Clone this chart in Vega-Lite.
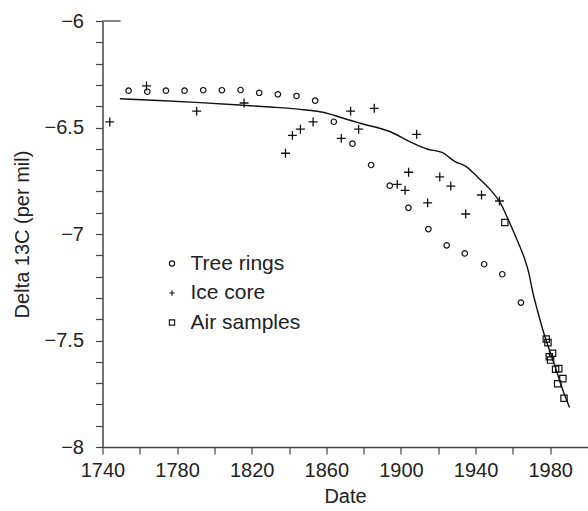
{
  "$schema": "https://vega.github.io/schema/vega-lite/v6.json",
  "width": 485,
  "height": 426,
  "autosize": "none",
  "padding": {"left": 102.5, "top": 21, "right": 0.5, "bottom": 64},
  "background": "white",
  "config": {
    "view": {"stroke": null},
    "font": "Liberation Sans",
    "axis": {
      "grid": false,
      "domainColor": "#444",
      "domainWidth": 1.5,
      "tickColor": "#444",
      "tickWidth": 1.2,
      "tickSize": 7,
      "labelFontSize": 20,
      "labelColor": "#222",
      "titleFontSize": 20,
      "titleFontWeight": "normal",
      "titleColor": "#222"
    }
  },
  "datasets": {
    "points": [
      {"date": 1754, "d13c": -6.327, "series": "Tree rings"},
      {"date": 1764, "d13c": -6.332, "series": "Tree rings"},
      {"date": 1774, "d13c": -6.327, "series": "Tree rings"},
      {"date": 1784, "d13c": -6.327, "series": "Tree rings"},
      {"date": 1794, "d13c": -6.325, "series": "Tree rings"},
      {"date": 1804, "d13c": -6.325, "series": "Tree rings"},
      {"date": 1814, "d13c": -6.324, "series": "Tree rings"},
      {"date": 1824, "d13c": -6.337, "series": "Tree rings"},
      {"date": 1834, "d13c": -6.344, "series": "Tree rings"},
      {"date": 1844, "d13c": -6.352, "series": "Tree rings"},
      {"date": 1854, "d13c": -6.374, "series": "Tree rings"},
      {"date": 1864, "d13c": -6.473, "series": "Tree rings"},
      {"date": 1874, "d13c": -6.576, "series": "Tree rings"},
      {"date": 1884, "d13c": -6.676, "series": "Tree rings"},
      {"date": 1894, "d13c": -6.773, "series": "Tree rings"},
      {"date": 1904, "d13c": -6.877, "series": "Tree rings"},
      {"date": 1914.7, "d13c": -6.977, "series": "Tree rings"},
      {"date": 1924.5, "d13c": -7.053, "series": "Tree rings"},
      {"date": 1934.2, "d13c": -7.091, "series": "Tree rings"},
      {"date": 1944.6, "d13c": -7.142, "series": "Tree rings"},
      {"date": 1954.3, "d13c": -7.189, "series": "Tree rings"},
      {"date": 1964.3, "d13c": -7.322, "series": "Tree rings"},
      {"date": 1743.9, "d13c": -6.474, "series": "Ice core"},
      {"date": 1763.6, "d13c": -6.305, "series": "Ice core"},
      {"date": 1790.5, "d13c": -6.423, "series": "Ice core"},
      {"date": 1815.9, "d13c": -6.385, "series": "Ice core"},
      {"date": 1838.1, "d13c": -6.621, "series": "Ice core"},
      {"date": 1841.8, "d13c": -6.537, "series": "Ice core"},
      {"date": 1846.1, "d13c": -6.508, "series": "Ice core"},
      {"date": 1852.9, "d13c": -6.474, "series": "Ice core"},
      {"date": 1868, "d13c": -6.551, "series": "Ice core"},
      {"date": 1873, "d13c": -6.423, "series": "Ice core"},
      {"date": 1877.3, "d13c": -6.508, "series": "Ice core"},
      {"date": 1885.7, "d13c": -6.41, "series": "Ice core"},
      {"date": 1898, "d13c": -6.767, "series": "Ice core"},
      {"date": 1902.2, "d13c": -6.795, "series": "Ice core"},
      {"date": 1904.1, "d13c": -6.71, "series": "Ice core"},
      {"date": 1908.4, "d13c": -6.532, "series": "Ice core"},
      {"date": 1914.3, "d13c": -6.854, "series": "Ice core"},
      {"date": 1920.8, "d13c": -6.732, "series": "Ice core"},
      {"date": 1926.7, "d13c": -6.775, "series": "Ice core"},
      {"date": 1934.7, "d13c": -6.906, "series": "Ice core"},
      {"date": 1943.2, "d13c": -6.817, "series": "Ice core"},
      {"date": 1952.8, "d13c": -6.845, "series": "Ice core"},
      {"date": 1955.7, "d13c": -6.946, "series": "Air samples"},
      {"date": 1977.9, "d13c": -7.493, "series": "Air samples"},
      {"date": 1978.8, "d13c": -7.51, "series": "Air samples"},
      {"date": 1981.3, "d13c": -7.56, "series": "Air samples"},
      {"date": 1979.5, "d13c": -7.576, "series": "Air samples"},
      {"date": 1980.2, "d13c": -7.592, "series": "Air samples"},
      {"date": 1982.9, "d13c": -7.635, "series": "Air samples"},
      {"date": 1984.6, "d13c": -7.632, "series": "Air samples"},
      {"date": 1984, "d13c": -7.703, "series": "Air samples"},
      {"date": 1986.8, "d13c": -7.679, "series": "Air samples"},
      {"date": 1987.4, "d13c": -7.771, "series": "Air samples"}
    ],
    "curve": [
      {"date": 1749.3, "d13c": -6.365},
      {"date": 1770, "d13c": -6.373},
      {"date": 1790, "d13c": -6.382},
      {"date": 1815.9, "d13c": -6.396},
      {"date": 1830, "d13c": -6.404},
      {"date": 1846, "d13c": -6.415},
      {"date": 1855, "d13c": -6.424},
      {"date": 1862, "d13c": -6.437},
      {"date": 1867.4, "d13c": -6.452},
      {"date": 1878.2, "d13c": -6.48},
      {"date": 1894.3, "d13c": -6.52},
      {"date": 1905, "d13c": -6.567},
      {"date": 1914, "d13c": -6.601},
      {"date": 1922, "d13c": -6.617},
      {"date": 1929.2, "d13c": -6.661},
      {"date": 1934.6, "d13c": -6.681},
      {"date": 1940.9, "d13c": -6.731},
      {"date": 1948, "d13c": -6.793},
      {"date": 1953.4, "d13c": -6.856},
      {"date": 1957.8, "d13c": -6.938},
      {"date": 1962.2, "d13c": -7.027},
      {"date": 1965.9, "d13c": -7.107},
      {"date": 1968.6, "d13c": -7.185},
      {"date": 1970.4, "d13c": -7.263},
      {"date": 1973.1, "d13c": -7.357},
      {"date": 1976.6, "d13c": -7.466},
      {"date": 1980.2, "d13c": -7.56},
      {"date": 1983.8, "d13c": -7.654},
      {"date": 1987.4, "d13c": -7.748},
      {"date": 1990.4, "d13c": -7.815}
    ],
    "topstub": [
      {"date": 1740, "date2": 1749.7, "d13c": -6}
    ]
  },
  "encoding": {
    "x": {
      "field": "date",
      "type": "quantitative",
      "scale": {"domain": [1740, 2000], "nice": false, "zero": false},
      "axis": {
        "title": "Date",
        "values": [1740, 1760, 1780, 1800, 1820, 1840, 1860, 1880, 1900, 1920, 1940, 1960, 1980],
        "format": "d",
        "labelExpr": "datum.value % 40 == 0 ? '' : datum.label",
        "labelPadding": 6,
        "titlePadding": 6,
        "labelFlush": false,
        "labelOverlap": false
      }
    },
    "y": {
      "field": "d13c",
      "type": "quantitative",
      "scale": {"domain": [-8, -6], "nice": false, "zero": false},
      "axis": {
        "title": "Delta 13C (per mil)",
        "values": [-8, -7.9, -7.8, -7.7, -7.6, -7.5, -7.4, -7.3, -7.2, -7.1, -7, -6.9, -6.8, -6.7, -6.6, -6.5, -6.4, -6.3, -6.2, -6.1, -6],
        "labelExpr": "abs(datum.value * 2 - round(datum.value * 2)) < 0.001 ? format(datum.value, '~g') : ''",
        "labelPadding": 12,
        "titlePadding": 12,
        "labelFlush": false,
        "labelOverlap": false
      }
    }
  },
  "layer": [
    {
      "data": {"name": "topstub"},
      "mark": {"type": "rule", "color": "#444", "strokeWidth": 1.3},
      "encoding": {
        "x2": {"field": "date2"}
      }
    },
    {
      "data": {"name": "curve"},
      "mark": {"type": "line", "color": "#111", "strokeWidth": 1.4, "interpolate": "monotone"}
    },
    {
      "data": {"name": "points"},
      "transform": [{"filter": "datum.series === 'Tree rings'"}],
      "mark": {"type": "point", "size": 30, "strokeWidth": 1.2, "color": "#111", "filled": false, "opacity": 1},
      "encoding": {
        "shape": {
          "field": "series",
          "type": "nominal",
          "scale": {"domain": ["Tree rings", "Ice core", "Air samples"], "range": ["circle", "M-1,0H1M0,-1V1", "square"]},
          "legend": {
            "orient": "none",
            "legendX": 59,
            "legendY": 232,
            "title": null,
            "padding": 0,
            "labelFontSize": 21,
            "labelColor": "#222",
            "labelOffset": 8,
            "rowPadding": 7.5,
            "symbolSize": 28,
            "symbolStrokeWidth": 1.1,
            "symbolStrokeColor": "#111",
            "symbolFillColor": "transparent"
          }
        }
      }
    },
    {
      "data": {"name": "points"},
      "transform": [{"filter": "datum.series === 'Ice core'"}],
      "mark": {"type": "point", "size": 80, "strokeWidth": 1.3, "color": "#111", "filled": false, "opacity": 1},
      "encoding": {
        "shape": {"field": "series", "type": "nominal"}
      }
    },
    {
      "data": {"name": "points"},
      "transform": [{"filter": "datum.series === 'Air samples'"}],
      "mark": {"type": "point", "size": 40, "strokeWidth": 1.2, "color": "#111", "filled": false, "opacity": 1},
      "encoding": {
        "shape": {"field": "series", "type": "nominal"}
      }
    }
  ]
}
